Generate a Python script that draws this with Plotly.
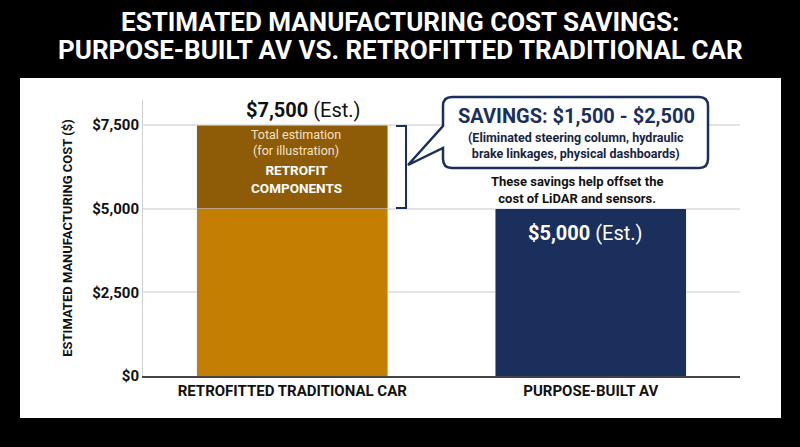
import plotly.graph_objects as go

categories = ["RETROFITTED TRADITIONAL CAR", "PURPOSE-BUILT AV"]
base_cost = [5000, 5000]
retrofit_extra = [2500, 0]
tick_vals = [0, 2500, 5000, 7500]
tick_text = ["$0", "$2,500", "$5,000", "$7,500"]

W, H = 800, 447
L, R, T, B = 143, 60, 100, 71
PW, PH = W - L - R, H - T - B

def px(x):
    return (x - L) / PW

def py(y):
    return (H - B - y) / PH

ORANGE = "#C47F02"
DARK = "#8E5B07"
NAVY = "#1B2F5C"

fig = go.Figure()
fig.add_trace(go.Bar(x=categories, y=base_cost, marker_color=[ORANGE, NAVY],
                     width=0.64, hoverinfo="skip"))
fig.add_trace(go.Bar(x=categories, y=retrofit_extra, marker_color=[DARK, DARK],
                     width=0.64, hoverinfo="skip"))

shapes = []
shapes.append(dict(type="rect", xref="paper", yref="paper", layer="below",
                   x0=px(20), x1=px(781), y0=py(418), y1=py(78),
                   fillcolor="white", line=dict(width=0)))
shapes.append(dict(type="path", xref="paper", yref="paper",
                   path=f"M {px(396)} {py(126)} L {px(406)} {py(126)} L {px(406)} {py(208)} L {px(396)} {py(208)}",
                   line=dict(color=NAVY, width=2)))
x0, x1, y0, y1, r = 443, 708, 97, 168, 9
pts = [
    ("M", x0 + r, y0), ("L", x1 - r, y0), ("Q", x1, y0, x1, y0 + r), ("L", x1, y1 - r),
    ("Q", x1, y1, x1 - r, y1), ("L", x0 + r, y1), ("Q", x0, y1, x0, y1 - r),
    ("L", x0, 148), ("L", 408, 165), ("L", x0, 126), ("L", x0, y0 + r),
    ("Q", x0, y0, x0 + r, y0),
]
path = ""
for p in pts:
    coords = p[1:]
    s = " ".join(f"{px(coords[i])},{py(coords[i+1])}" for i in range(0, len(coords), 2))
    path += f"{p[0]} {s} "
path += "Z"
shapes.append(dict(type="path", xref="paper", yref="paper", path=path,
                   fillcolor="white", line=dict(color=NAVY, width=2.5)))

FONT = "Roboto"
ann = []
def txt(x, y, text, size, color, family=FONT):
    ann.append(dict(x=px(x), y=py(y), xref="paper", yref="paper", text=text,
                    showarrow=False, font=dict(size=size, color=color, family=family),
                    xanchor="center", yanchor="middle", align="center"))

txt(400, 22, "<b>ESTIMATED MANUFACTURING COST SAVINGS:</b>", 26, "white")
txt(400, 50, "<b>PURPOSE-BUILT AV VS. RETROFITTED TRADITIONAL CAR</b>", 26, "white")
txt(303, 110, "<b>$7,500</b> (Est.)", 20, "#111111")
txt(296, 142, "Total estimation<br>(for illustration)", 12.5, "#F2E3C8")
txt(296, 179, "<b>RETROFIT<br>COMPONENTS</b>", 13.5, "white")
txt(576, 116, "<b>SAVINGS: $1,500 - $2,500</b>", 20, NAVY)
txt(576, 145, "<b>(Eliminated steering column, hydraulic<br>brake linkages, physical dashboards)</b>", 12.5, "#1a2540")
txt(577, 190, "<b>These savings help offset the<br>cost of LiDAR and sensors.</b>", 13, "#111111")
txt(585, 233, "<b>$5,000</b> (Est.)", 20, "white")

fig.update_layout(
    width=W, height=H,
    margin=dict(l=L, r=R, t=T, b=B),
    paper_bgcolor="black", plot_bgcolor="white",
    barmode="stack", showlegend=False,
    shapes=shapes, annotations=ann,
    font=dict(family=FONT),
)
fig.update_xaxes(range=[-0.5, 1.5], showline=True, linecolor="#444444", linewidth=2,
                 tickfont=dict(size=15, color="#111111"), ticks="", fixedrange=True,
                 ticktext=["<b>RETROFITTED TRADITIONAL CAR</b>", "<b>PURPOSE-BUILT AV</b>"],
                 tickvals=categories)
fig.update_yaxes(range=[0, 8250], tickvals=tick_vals, ticktext=[f"<b>{t}</b>" for t in tick_text],
                 tickfont=dict(size=15, color="#111111"), gridcolor="#E3E3E3", gridwidth=1.5,
                 showline=True, linecolor="#D0D0D0", linewidth=1, zeroline=False,
                 title=dict(text="<b>ESTIMATED MANUFACTURING COST ($)</b>",
                            font=dict(size=13, color="#111111"), standoff=16),
                 fixedrange=True)
fig.write_html("out.html", config={"displayModeBar": False},
               post_script="document.body.style.margin='0';document.body.style.background='black';")
